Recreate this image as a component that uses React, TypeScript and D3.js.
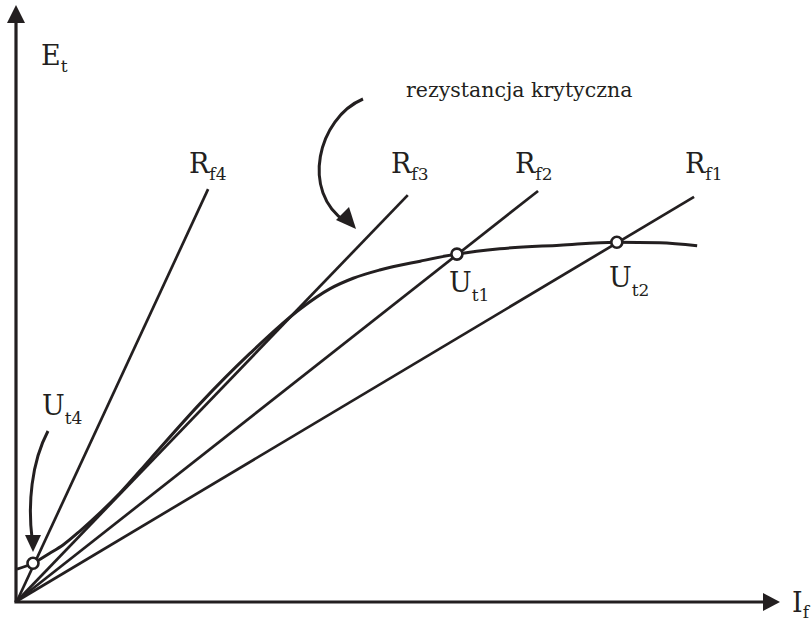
import React from "react";
import * as d3 from "d3";

// Magnetization curve E_t(I_f) (arbitrary units)
const curveIf = [0, 2.05, 4.2, 5.9, 8.1, 10.6, 13.2, 17.05, 23.5, 29.9, 36.3, 40.1, 43.1, 46.5, 51.7, 56.4, 61.9, 69.6, 76.9, 82.4, 87.2];
const curveEt = [5.4, 6.4, 8.1, 9.5, 11.9, 14.9, 18.3, 24.0, 33.5, 42.0, 49.5, 52.9, 54.7, 56.1, 57.6, 58.8, 59.7, 60.3, 60.8, 60.7, 60.2];

// Field resistance lines (end points; all start at origin)
const lineNames = ["f4", "f3", "f2", "f1"];
const lineEndIf = [24.5, 50.1, 66.8, 86.8];
const lineEndEt = [69.8, 68.8, 69.5, 68.5];

// Operating points
const pointNames = ["t4", "t1", "t2"];
const pointIf = [2.05, 56.4, 76.9];
const pointEt = [6.4, 58.8, 60.8];

const W = 812;
const H = 623;
const FONT = "DejaVu Serif";

export default function App() {
  const x = d3.scaleLinear().domain([0, 100]).range([17, 797]);
  const y = d3.scaleLinear().domain([0, 100]).range([601, 11]);

  const curvePts: [number, number][] = curveIf.map((v, i) => [x(v), y(curveEt[i])]);
  const curvePath = d3.line().curve(d3.curveMonotoneX)(curvePts) || "";

  const lines = lineNames.map((n, i) => ({
    n,
    x1: x(0),
    y1: y(0),
    x2: x(lineEndIf[i]),
    y2: y(lineEndEt[i]),
  }));

  const labelBig = 27;
  const labelSub = 17;
  const Lbl = ({ px, py, main, sub, dy = 7 }: { px: number; py: number; main: string; sub: string; dy?: number }) => (
    <text x={px} y={py} fontFamily={FONT} fontSize={labelBig} fill="#231f20">
      {main}
      <tspan fontSize={labelSub} dy={dy}>{sub}</tspan>
    </text>
  );

  return (
    <svg width={W} height={H} style={{ position: "fixed", left: 0, top: 0, background: "#fff" }}>
      <rect width={W} height={H} fill="#fff" />
      {/* axes */}
      <line x1={16} y1={602} x2={16} y2={20} stroke="#231f20" strokeWidth={3.2} />
      <path d="M16,5 L7,23 L25,23 Z" fill="#231f20" />
      <line x1={14.4} y1={602} x2={765} y2={602} stroke="#231f20" strokeWidth={3.2} />
      <path d="M780,602 L763,593 L763,611 Z" fill="#231f20" />

      {/* resistance lines */}
      {lines.map((l) => (
        <line key={l.n} x1={l.x1} y1={l.y1} x2={l.x2} y2={l.y2} stroke="#231f20" strokeWidth={2.7} />
      ))}

      {/* magnetization curve */}
      <path d={curvePath} fill="none" stroke="#231f20" strokeWidth={3} />

      {/* operating points */}
      {pointNames.map((n, i) => (
        <circle key={n} cx={x(pointIf[i])} cy={y(pointEt[i])} r={5.5} fill="#fff" stroke="#231f20" strokeWidth={2.6} />
      ))}

      {/* annotation arrows */}
      <path d="M363,99 C318,118 300,192 346,222" fill="none" stroke="#231f20" strokeWidth={3} />
      <path d="M356,229 L336,220 L349,207 Z" fill="#231f20" />
      <path d="M48,431 C31,463 28,505 32,538" fill="none" stroke="#231f20" strokeWidth={3} />
      <path d="M33,552 L25,535 L41,535 Z" fill="#231f20" />

      {/* labels */}
      <Lbl px={41} py={65} main="E" sub="t" />
      <Lbl px={792} py={612} main="I" sub="f" dy={6} />
      <Lbl px={189} py={173} main="R" sub="f4" />
      <Lbl px={391} py={173} main="R" sub="f3" />
      <Lbl px={515} py={173} main="R" sub="f2" />
      <Lbl px={685} py={173} main="R" sub="f1" />
      <Lbl px={449} py={292} main="U" sub="t1" dy={9} />
      <Lbl px={609} py={287} main="U" sub="t2" dy={9} />
      <Lbl px={42} py={415} main="U" sub="t4" dy={9} />
      <text x={406} y={97} fontFamily={FONT} fontSize={20.5} fill="#231f20">rezystancja krytyczna</text>
    </svg>
  );
}
